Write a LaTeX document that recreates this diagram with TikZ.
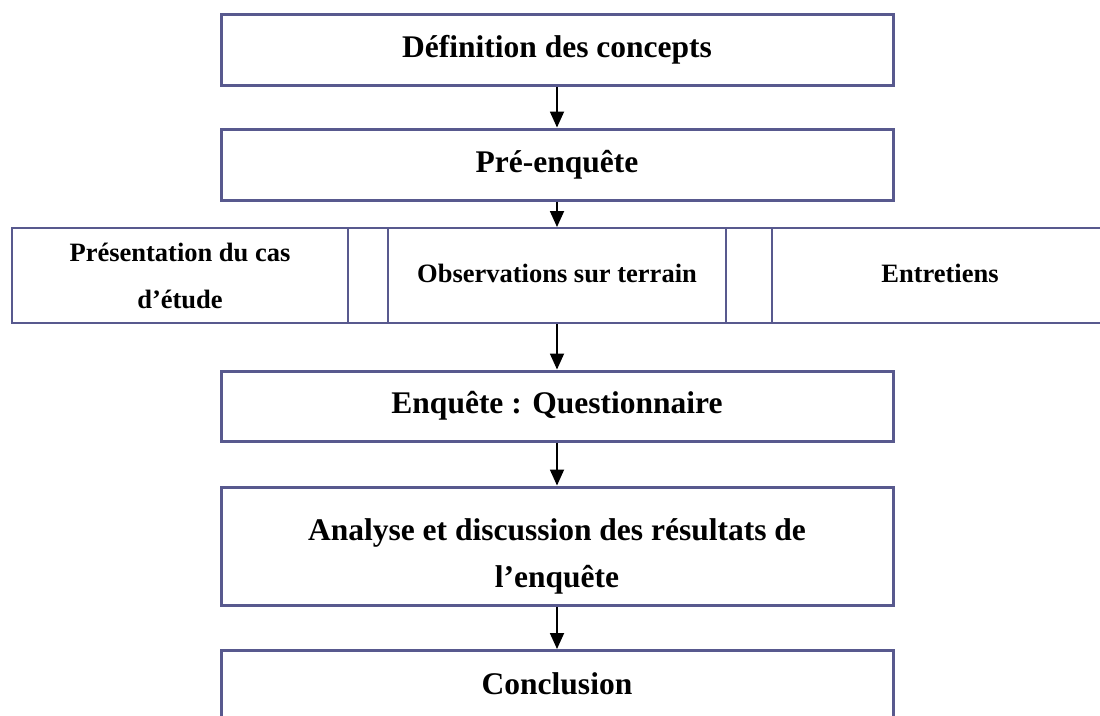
\documentclass[tikz,border=0pt]{standalone}
\usepackage{fontspec}
\setmainfont{Liberation Serif}
\usetikzlibrary{arrows.meta}
\definecolor{boxline}{RGB}{88,89,142}
\begin{document}
\begin{tikzpicture}[x=1pt,y=-1pt,
  mainbox/.style={draw=boxline, line width=3pt, minimum width=672pt, inner sep=0pt, align=center, font=\fontsize{31.5}{47}\selectfont\bfseries},
  maintext/.style={inner sep=0pt, align=center, font=\fontsize{31.5}{47}\selectfont\bfseries},
  rowbox/.style={draw=boxline, line width=2pt, inner sep=0pt, minimum height=95pt, align=center, font=\fontsize{26.5}{47}\selectfont\bfseries},
  flow/.style={draw=black, line width=1.8pt, -{Triangle[width=14pt,length=16pt]}}]
\useasboundingbox (0,0) rectangle (1100,715);
\clip (0,0) rectangle (1100,715);
\node[mainbox, minimum height=71pt] (b1) at (557,49.5) {Définition des concepts};
\node[mainbox, minimum height=71pt] (b2) at (557,164.5) {Pré-enquête};
\node[rowbox, minimum width=336pt] (ra) at (180,275.5) {Présentation du cas\\d’étude};
\node[rowbox, minimum width=40pt] (g1) at (368,275.5) {};
\node[rowbox, minimum width=338pt] (rb) at (557,275.5) {\raisebox{4pt}{Observations sur terrain}};
\node[rowbox, minimum width=46pt] (g2) at (749,275.5) {};
\node[rowbox, minimum width=336pt] (rc) at (940,275.5) {\raisebox{4pt}{Entretiens}};
\node[mainbox, minimum height=70pt] (b3) at (557,406) {Enquête : Questionnaire};
\node[mainbox, minimum height=118pt] (b4) at (557,546) {};
\node[maintext] (t4) at (557,556) {Analyse et discussion des résultats de\\l’enquête};
\node[mainbox, anchor=north, text height=22pt, text depth=70pt, inner ysep=22pt] (b5) at (557,649) {Conclusion};
\draw[flow] (b1.south) -- (b2.north);
\draw[flow] (b2.south) -- (rb.north);
\draw[flow] (rb.south) -- (b3.north);
\draw[flow] (b3.south) -- (b4.north);
\draw[flow] (b4.south) -- (b5.north);
\end{tikzpicture}
\end{document}
